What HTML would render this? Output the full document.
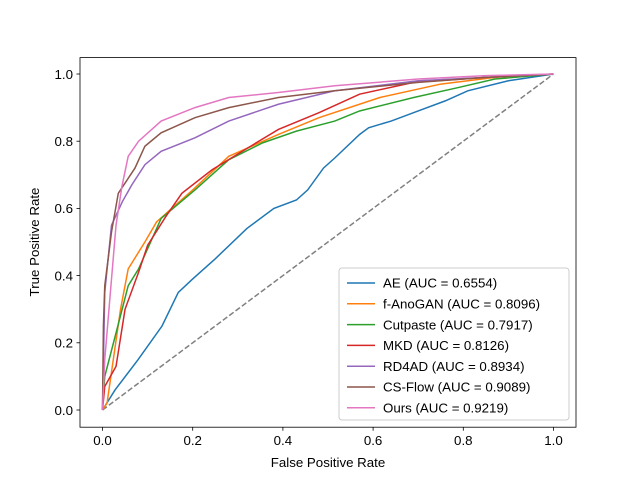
<!DOCTYPE html>
<html><head><meta charset="utf-8"><style>
body{margin:0;background:#fff}
svg{font-family:"Liberation Sans","DejaVu Sans",sans-serif}
</style></head><body>
<svg id="chart" width="640" height="480" viewBox="0 0 640 480">
<rect x="0" y="0" width="640" height="480" fill="#fff"/>
<g id="plot"></g>
<rect x="80" y="57.6" width="496" height="369.6" fill="none" stroke="#000" stroke-width="0.8"/>
<g id="ticks"></g>
<text x="328" y="467" text-anchor="middle" font-size="13.3">False Positive Rate</text>
<text transform="translate(39,242) rotate(-90)" text-anchor="middle" font-size="13.3">True Positive Rate</text>
<g id="legend"></g>
</svg>
<script>
const seriesNames=["AE (AUC = 0.6554)","f-AnoGAN (AUC = 0.8096)","Cutpaste (AUC = 0.7917)","MKD (AUC = 0.8126)","RD4AD (AUC = 0.8934)","CS-Flow (AUC = 0.9089)","Ours (AUC = 0.9219)"];
const colors=["#1f77b4","#ff7f0e","#2ca02c","#d62728","#9467bd","#8c564b","#e377c2"];
const aeX=[0,0.028,0.079,0.132,0.168,0.2,0.25,0.32,0.38,0.43,0.455,0.49,0.515,0.57,0.59,0.64,0.7,0.76,0.81,0.9,1];
const aeY=[0,0.06,0.15,0.25,0.35,0.39,0.45,0.54,0.6,0.625,0.655,0.72,0.75,0.82,0.84,0.86,0.89,0.92,0.95,0.98,1];
const fanoX=[0,0.01,0.04,0.057,0.094,0.12,0.2,0.28,0.39,0.48,0.615,0.75,0.87,1];
const fanoY=[0,0.02,0.3,0.42,0.5,0.56,0.655,0.755,0.82,0.87,0.93,0.97,0.99,1];
const cutX=[0,0.005,0.034,0.057,0.08,0.11,0.13,0.205,0.28,0.355,0.43,0.515,0.57,0.69,0.79,0.87,1];
const cutY=[0,0.1,0.25,0.37,0.42,0.51,0.57,0.655,0.745,0.795,0.83,0.86,0.89,0.93,0.96,0.985,1];
const mkdX=[0,0.005,0.03,0.05,0.08,0.1,0.14,0.176,0.243,0.316,0.39,0.48,0.57,0.69,0.85,1];
const mkdY=[0,0.07,0.13,0.3,0.41,0.49,0.575,0.645,0.715,0.775,0.835,0.885,0.94,0.975,0.99,1];
const rdX=[0,0.005,0.02,0.044,0.065,0.094,0.13,0.205,0.28,0.39,0.515,0.7,0.85,1];
const rdY=[0,0.35,0.55,0.62,0.67,0.73,0.77,0.81,0.86,0.91,0.95,0.98,0.99,1];
const csX=[0,0.002,0.005,0.02,0.035,0.072,0.094,0.13,0.205,0.28,0.39,0.515,0.7,0.85,1];
const csY=[0,0.25,0.37,0.53,0.645,0.72,0.785,0.825,0.87,0.9,0.93,0.95,0.975,0.99,1];
const oursX=[0,0.005,0.03,0.043,0.057,0.08,0.13,0.205,0.28,0.39,0.515,0.7,0.85,1];
const oursY=[0,0.15,0.55,0.665,0.755,0.8,0.86,0.9,0.93,0.945,0.965,0.985,0.995,1];
const seriesX=[aeX,fanoX,cutX,mkdX,rdX,csX,oursX];
const seriesY=[aeY,fanoY,cutY,mkdY,rdY,csY,oursY];
const tickVals=[0,0.2,0.4,0.6,0.8,1.0];
const tickLabels=["0.0","0.2","0.4","0.6","0.8","1.0"];
const NS="http://www.w3.org/2000/svg";
const sx=v=>102.5+v*451;
const sy=v=>410-v*336;
const plot=document.getElementById('plot');
const diag=document.createElementNS(NS,'line');
diag.setAttribute('x1',sx(0));diag.setAttribute('y1',sy(0));diag.setAttribute('x2',sx(1));diag.setAttribute('y2',sy(1));
diag.setAttribute('stroke','#808080');diag.setAttribute('stroke-width','1.5');diag.setAttribute('stroke-dasharray','5.5,2.4');


plot.appendChild(diag);
seriesX.forEach((xs,i)=>{
  const p=document.createElementNS(NS,'polyline');
  p.setAttribute('points',xs.map((x,j)=>sx(x)+','+sy(seriesY[i][j])).join(' '));
  p.setAttribute('fill','none');p.setAttribute('stroke',colors[i]);p.setAttribute('stroke-width','1.5');
  
  
  plot.appendChild(p);
});
const ticks=document.getElementById('ticks');
tickVals.forEach((v,i)=>{
  const tx=document.createElementNS(NS,'line');
  tx.setAttribute('x1',sx(v));tx.setAttribute('x2',sx(v));tx.setAttribute('y1',427.2);tx.setAttribute('y2',430.7);tx.setAttribute('stroke','#000');tx.setAttribute('stroke-width','0.8');
  
  
  ticks.appendChild(tx);
  const lx=document.createElementNS(NS,'text');
  lx.setAttribute('x',sx(v));lx.setAttribute('y',445);lx.setAttribute('text-anchor','middle');lx.setAttribute('font-size','13.3');lx.textContent=tickLabels[i];
  
  
  ticks.appendChild(lx);
  const ty=document.createElementNS(NS,'line');
  ty.setAttribute('x1',76.5);ty.setAttribute('x2',80);ty.setAttribute('y1',sy(v));ty.setAttribute('y2',sy(v));ty.setAttribute('stroke','#000');ty.setAttribute('stroke-width','0.8');
  
  
  ticks.appendChild(ty);
  const ly=document.createElementNS(NS,'text');
  ly.setAttribute('x',73);ly.setAttribute('y',sy(v)+4.8);ly.setAttribute('text-anchor','end');ly.setAttribute('font-size','13.3');ly.textContent=tickLabels[i];
  
  
  ticks.appendChild(ly);
});
const lg=document.getElementById('legend');
const box=document.createElementNS(NS,'rect');
box.setAttribute('x',339);box.setAttribute('y',268);box.setAttribute('width',230);box.setAttribute('height',152);box.setAttribute('rx',3);
box.setAttribute('fill','#fff');box.setAttribute('fill-opacity','0.8');box.setAttribute('stroke','#ccc');box.setAttribute('stroke-width','1');


lg.appendChild(box);
seriesNames.forEach((n,i)=>{
  const y=283+i*20.8;
  const l=document.createElementNS(NS,'line');
  l.setAttribute('x1',347);l.setAttribute('x2',375);l.setAttribute('y1',y);l.setAttribute('y2',y);l.setAttribute('stroke',colors[i]);l.setAttribute('stroke-width','1.5');
  
  
  lg.appendChild(l);
  const t=document.createElementNS(NS,'text');
  t.setAttribute('x',383);t.setAttribute('y',y+4.7);t.setAttribute('font-size','13.3');t.textContent=n;
  
  
  lg.appendChild(t);
});
</script>
</body></html>
